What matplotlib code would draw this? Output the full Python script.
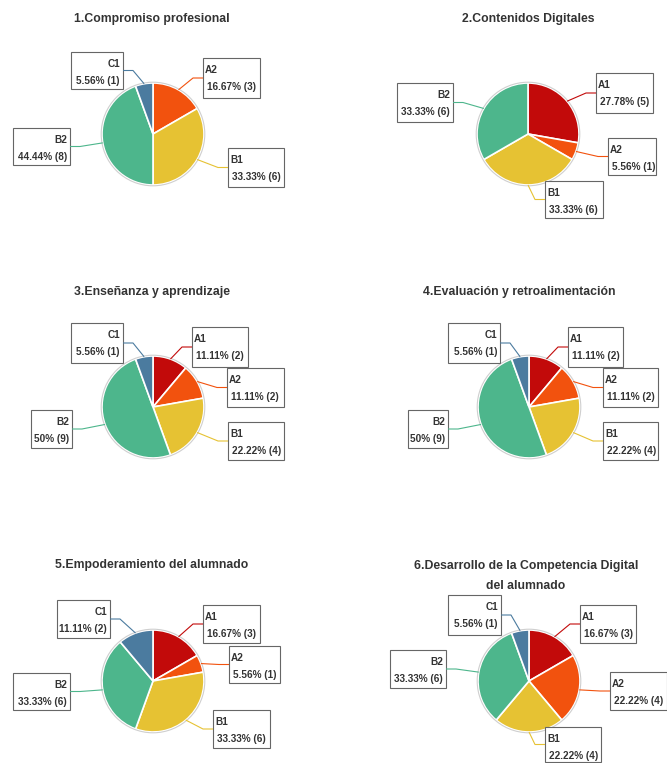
import numpy as np
import matplotlib.pyplot as plt
from matplotlib.patches import Rectangle

# --- data ---
categories = ["A1", "A2", "B1", "B2", "C1"]
titles = [
    "1.Compromiso profesional",
    "2.Contenidos Digitales",
    "3.Enseñanza y aprendizaje",
    "4.Evaluación y retroalimentación",
    "5.Empoderamiento del alumnado",
    "6.Desarrollo de la Competencia Digital\ndel alumnado",
]
counts_1 = [0, 3, 6, 8, 1]
counts_2 = [5, 1, 6, 6, 0]
counts_3 = [2, 2, 4, 9, 1]
counts_4 = [2, 2, 4, 9, 1]
counts_5 = [3, 1, 6, 6, 2]
counts_6 = [3, 4, 4, 6, 1]
all_counts = [counts_1, counts_2, counts_3, counts_4, counts_5, counts_6]

colors = {"A1": "#C20A0A", "A2": "#F2520E", "B1": "#E6C233",
          "B2": "#4DB68C", "C1": "#4B7B9F"}

# --- layout (pixel coords, y from top) ---
W, H = 667, 763
R = 51
centers = [(153, 134), (528, 134), (153, 407), (529, 407), (153, 681), (529, 681)]
title_pos = [(152, 19), (528, 19), (152, 292), (519, 292), (152, 565), (526, 576)]
# box per category: (x0, y0, x1, y1)
boxes = [
    {"A2": (203, 58, 260, 98), "B1": (228, 148, 284, 187),
     "B2": (13, 128, 70, 165), "C1": (71, 52, 123, 89)},
    {"A1": (596, 73, 653, 113), "A2": (608, 138, 656, 175),
     "B1": (545, 181, 603, 218), "B2": (397, 83, 453, 122)},
    {"A1": (192, 327, 248, 367), "A2": (227, 368, 284, 407),
     "B1": (228, 422, 284, 460), "B2": (31, 410, 72, 448), "C1": (71, 323, 123, 363)},
    {"A1": (568, 327, 623, 367), "A2": (603, 368, 658, 407),
     "B1": (603, 422, 658, 460), "B2": (408, 410, 448, 448), "C1": (448, 323, 500, 363)},
    {"A1": (203, 605, 260, 643), "A2": (229, 646, 280, 683),
     "B1": (213, 710, 270, 748), "B2": (13, 673, 70, 710), "C1": (57, 600, 110, 638)},
    {"A1": (580, 605, 636, 643), "A2": (610, 672, 667, 710),
     "B1": (545, 727, 601, 762), "B2": (390, 650, 446, 688), "C1": (448, 595, 501, 635)},
]

plt.rcParams["font.family"] = ["Liberation Sans", "DejaVu Sans"]

fig = plt.figure(figsize=(W / 100, H / 100), dpi=100)
ax = fig.add_axes([0, 0, 1, 1])


def fy(y):
    return H - y


def fmt_pct(n, total):
    p = f"{100 * n / total:.2f}".rstrip("0").rstrip(".")
    return f"{p}% ({n})"


TXT = dict(fontsize=7.2, fontweight="bold", color="#333333", va="center")

for i, counts in enumerate(all_counts):
    cx, cy = centers[i]
    cats = [c for c, n in zip(categories, counts) if n > 0]
    vals = [n for n in counts if n > 0]
    total = sum(counts)
    wedges, _ = ax.pie(vals, colors=[colors[c] for c in cats], startangle=90,
                       counterclock=False, center=(cx, fy(cy)), radius=R,
                       wedgeprops=dict(edgecolor="white", linewidth=1.2),
                       frame=True)
    # faint outline around the pie
    ax.add_patch(plt.Circle((cx, fy(cy)), R + 0.8, fill=False,
                            edgecolor="#cfcfcf", lw=0.8))
    tx, ty = title_pos[i]
    ax.text(tx, fy(ty), titles[i], ha="center", va="center", fontsize=8.8,
            fontweight="bold", color="#333333", linespacing=1.9)

    for w, c, n in zip(wedges, cats, vals):
        x0, y0, x1, y1 = boxes[i][c]
        ang = np.deg2rad((w.theta1 + w.theta2) / 2)
        px = cx + R * np.cos(ang)
        py = fy(cy) + R * np.sin(ang)
        ym = fy((y0 + y1) / 2)
        right = x0 > cx
        edge = x0 if right else x1
        ex = edge - 10 if right else edge + 10
        ax.plot([px, ex, edge], [py, ym, ym], color=colors[c], lw=0.8,
                solid_capstyle="butt")
        ax.add_patch(Rectangle((x0, fy(y1)), x1 - x0, y1 - y0, fill=True,
                               facecolor="white", edgecolor="#666666", lw=0.8))
        if right:
            ax.text(x0 + 2, fy(y0 + 12), c, ha="left", **TXT)
            ax.text(x0 + 4, fy(y0 + 29), fmt_pct(n, total), ha="left", **TXT)
        else:
            ax.text(x1 - 3, fy(y0 + 12), c, ha="right", **TXT)
            ax.text(x1 - 3, fy(y0 + 29), fmt_pct(n, total), ha="right", **TXT)

ax.set_xlim(0, W)
ax.set_ylim(0, H)
ax.set_aspect("auto")
ax.axis("off")

fig.savefig("out.png", dpi=100, facecolor="white")
